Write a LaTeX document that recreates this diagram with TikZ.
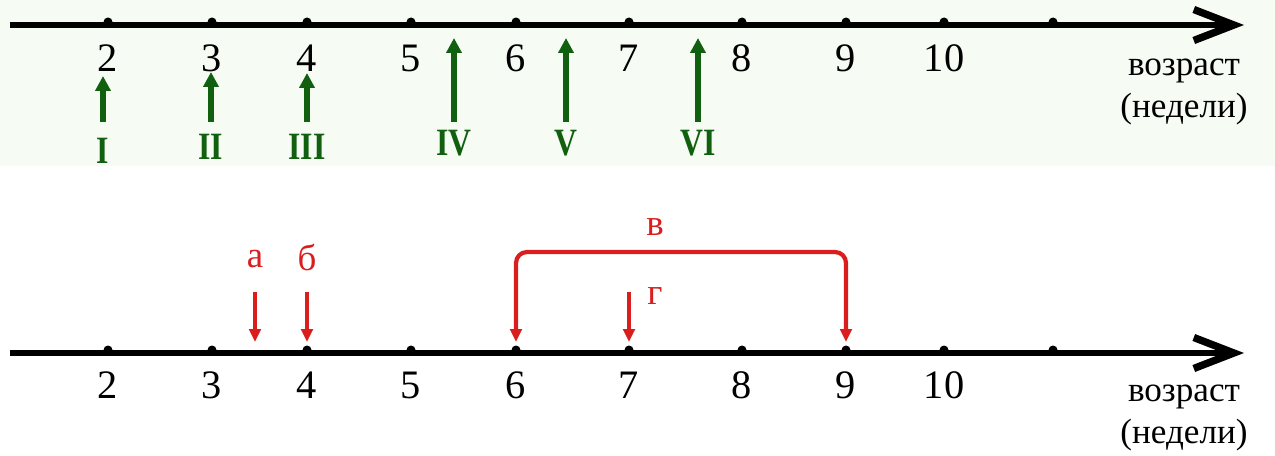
\documentclass[tikz,border=0pt]{standalone}
\usepackage{fontspec}
\setmainfont{Liberation Serif}
\newfontfamily\romfont[FakeStretch=0.82]{Liberation Serif}
\usepackage{xcolor}
\usepackage{tikz}
\usetikzlibrary{positioning,arrows.meta,calc}

\definecolor{darkgreen}{RGB}{16,96,16}
\definecolor{markred}{RGB}{218,30,30}
\definecolor{palegreen}{RGB}{246,251,243}

\begin{document}
\begin{tikzpicture}[x=0.02cm, y=-0.02cm]
\tikzset{
    axis/.style={line width=3.3pt, -{Straight Barb[length=0.8cm, width=0.62cm, line width=4.2pt]}},
    tickdot/.style={fill=black},
    num/.style={font=\fontsize{23}{27}\selectfont, inner sep=0pt},
    unit/.style={font=\fontsize{20}{24}\selectfont, align=center, inner sep=0pt},
    garrow/.style={draw=darkgreen, line width=3.4pt, -{Triangle[length=0.3cm, width=0.3cm]}},
    glabel/.style={text=darkgreen, font=\fontsize{22}{26}\romfont\bfseries, inner sep=0pt},
    rarrow/.style={draw=markred, line width=2.4pt, -{Triangle[length=0.26cm, width=0.23cm]}},
    rlabel/.style={text=markred, font=\fontsize{21}{25}\selectfont, inner sep=0pt}
}
\useasboundingbox (0,0) rectangle (1275,456);
\fill[palegreen] (0,0) rectangle (1275,166);

\coordinate (topstart) at (10,25);
\coordinate (topend) at (1244,25);
\draw[axis] (topstart) -- (topend);
\coordinate (botstart) at (10,353);
\coordinate (botend) at (1244,353);
\draw[axis] (botstart) -- (botend);

\foreach \n/\x in {2/108,3/212,4/307,5/411,6/516,7/629,8/742,9/846,10/944} {
    \coordinate (ta\n) at (\x,22);
    \coordinate (ba\n) at (\x,350);
    \fill[tickdot] (ta\n) circle (4.5);
    \fill[tickdot] (ba\n) circle (4.5);
    \node[num] (tl\n) at (\x,58) {\n};
    \node[num] (bl\n) at (\x,385) {\n};
}
\coordinate (ta11) at (1053,22);
\coordinate (ba11) at (1053,350);
\fill[tickdot] (ta11) circle (4.5);
\fill[tickdot] (ba11) circle (4.5);

\node[unit] (topunit) at (1184,92) {возраст\\(недели)};
\node[unit] (botunit) at (1184,418) {возраст\\(недели)};

\coordinate (g1s) at (103,122); \coordinate (g1e) at (103,76);
\coordinate (g2s) at (211,122); \coordinate (g2e) at (211,72);
\coordinate (g3s) at (307,122); \coordinate (g3e) at (307,73);
\coordinate (g4s) at (454,122); \coordinate (g4e) at (454,38);
\coordinate (g5s) at (566,122); \coordinate (g5e) at (566,38);
\coordinate (g6s) at (698,122); \coordinate (g6e) at (698,38);
\draw[garrow] (g1s) -- (g1e);
\draw[garrow] (g2s) -- (g2e);
\draw[garrow] (g3s) -- (g3e);
\draw[garrow] (g4s) -- (g4e);
\draw[garrow] (g5s) -- (g5e);
\draw[garrow] (g6s) -- (g6e);
\node[glabel] (gI) at (103,151) {I};
\node[glabel] (gII) at (211,147) {II};
\node[glabel] (gIII) at (307,147) {III};
\node[glabel] (gIV) at (454,143) {IV};
\node[glabel] (gV) at (566,143) {V};
\node[glabel] (gVI) at (698,143) {VI};

\coordinate (ras) at (255,292); \coordinate (rae) at (255,342);
\coordinate (rbs) at (307,292); \coordinate (rbe) at (307,342);
\coordinate (rgs) at (629,292); \coordinate (rge) at (629,342);
\draw[rarrow] (ras) -- (rae);
\draw[rarrow] (rbs) -- (rbe);
\draw[rarrow] (rgs) -- (rge);
\coordinate (rvl) at (516,342);
\coordinate (rvr) at (846,342);
\draw[rarrow, {Triangle[length=0.26cm, width=0.23cm]}-{Triangle[length=0.26cm, width=0.23cm]}, rounded corners=0.22cm]
    (rvl) -- ++(0,-90) -- ($(rvr)+(0,-90)$) -- (rvr);
\node[rlabel] (la) at (255,259) {а};
\node[rlabel] (lb) at (307,257) {б};
\node[rlabel] (lg) at (655,296) {г};
\node[rlabel] (lv) at (655,227) {в};
\end{tikzpicture}
\end{document}
